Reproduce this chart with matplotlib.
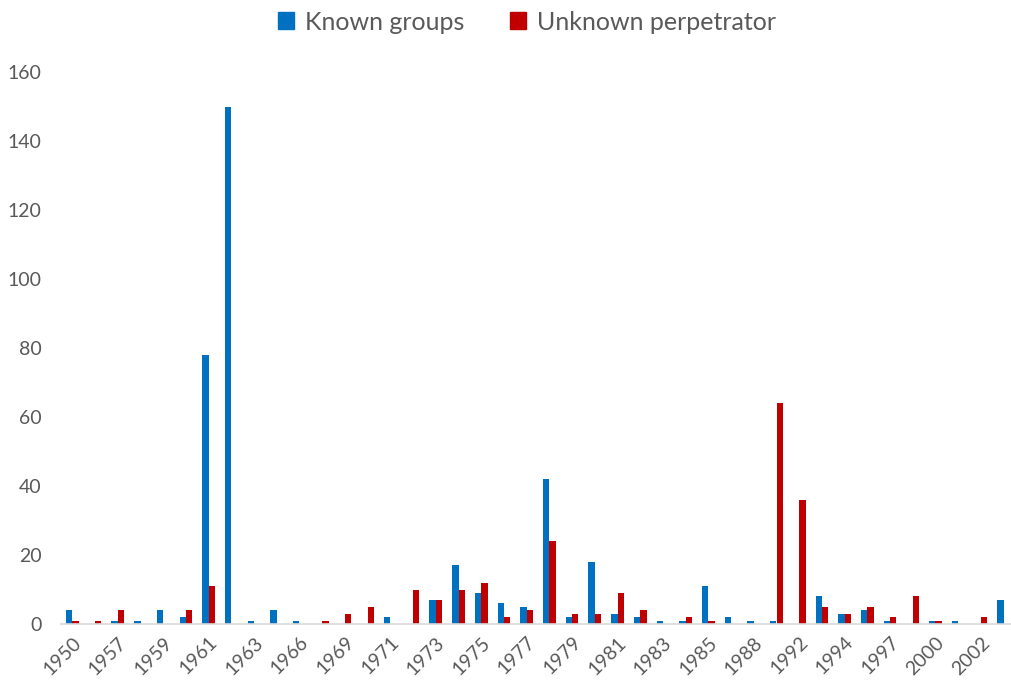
import numpy as np
import matplotlib.pyplot as plt
from matplotlib.patches import Patch

plt.rcParams['font.family'] = ['Lato', 'DejaVu Sans']

years = ['1950', '1955', '1957', '1958', '1959', '1960', '1961', '1962',
         '1963', '1965', '1966', '1967', '1969', '1970', '1971', '1972',
         '1973', '1974', '1975', '1976', '1977', '1978', '1979', '1980',
         '1981', '1982', '1983', '1984', '1985', '1986', '1988', '1991',
         '1992', '1993', '1994', '1995', '1997', '1998', '2000', '2001',
         '2002', '2003']

known = [4, 0, 1, 1, 4, 2, 78, 150, 1, 4, 1, 0, 0, 0, 2, 0,
         7, 17, 9, 6, 5, 42, 2, 18, 3, 2, 1, 1, 11, 2, 1, 1,
         0, 8, 3, 4, 1, 0, 1, 1, 0, 7]
unknown = [1, 1, 4, 0, 0, 4, 11, 0, 0, 0, 0, 1, 3, 5, 0, 10,
           7, 10, 12, 2, 4, 24, 3, 3, 9, 4, 0, 2, 1, 0, 0, 64,
           36, 5, 3, 5, 2, 8, 1, 0, 2, 0]

blue = '#0070C0'
red = '#C00000'
grey = '#595959'

fig = plt.figure(figsize=(10.11, 6.8), dpi=100)
ax = fig.add_axes([61 / 1011, 56 / 680, 954 / 1011, 552 / 680])

x = np.arange(len(years))
w = 0.28
ax.bar(x - w / 2, known, width=w, color=blue, label='Known groups')
ax.bar(x + w / 2, unknown, width=w, color=red, label='Unknown perpetrator')

ax.set_xlim(-0.5, len(years) - 0.5)
ax.set_ylim(0, 160)
ax.set_yticks(range(0, 161, 20))
ax.tick_params(axis='y', length=0, labelsize=14, labelcolor=grey, pad=14)

# every other year gets a label, as on the category axis
ax.set_xticks(x[::2])
ax.set_xticklabels(years[::2], rotation=45, ha='right', rotation_mode='anchor')
ax.tick_params(axis='x', length=0, labelsize=14, labelcolor=grey, pad=7)

for side in ['top', 'right', 'left']:
    ax.spines[side].set_visible(False)
ax.spines['bottom'].set_color('#D9D9D9')
ax.spines['bottom'].set_linewidth(1.2)

handles = [Patch(color=blue, label='Known groups'),
           Patch(color=red, label='Unknown perpetrator')]
fig.legend(handles=handles, loc='center', bbox_to_anchor=(527 / 1011, 1 - 22 / 680),
           ncol=2, frameon=False, fontsize=18, labelcolor=grey,
           handlelength=0.65, handleheight=0.65, handletextpad=0.45, columnspacing=1.8)

fig.savefig('out.png', dpi=100)
